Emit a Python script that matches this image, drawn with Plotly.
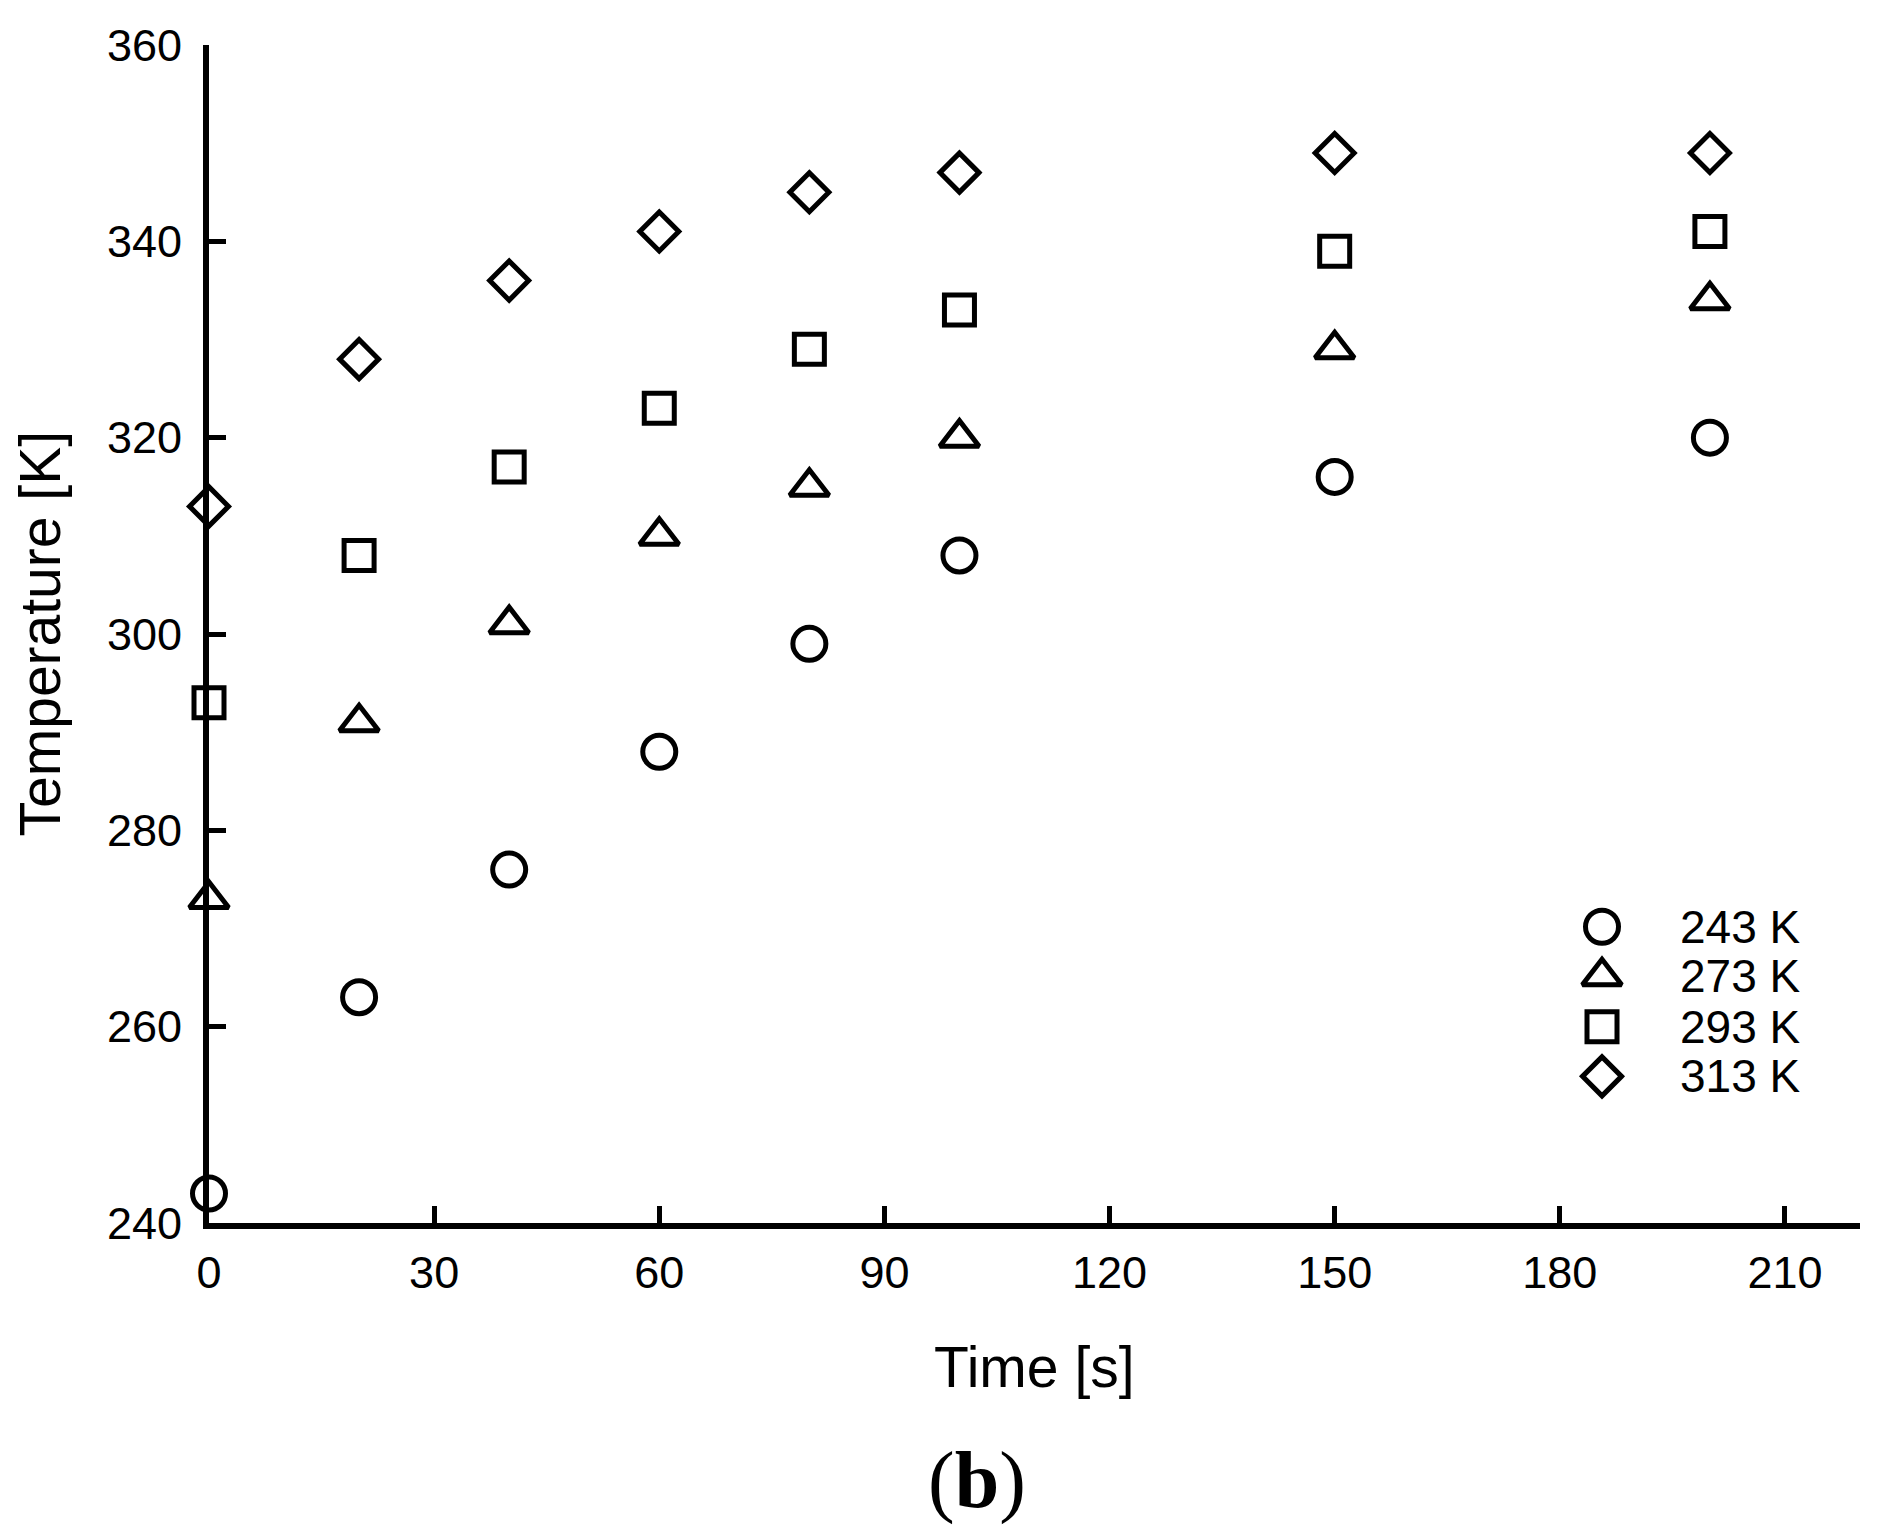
import plotly.graph_objects as go

# ---- data ----
time_s = [0, 20, 40, 60, 80, 100, 150, 200]
t_243 = [243, 263, 276, 288, 299, 308, 316, 320]
t_273 = [273, 291, 301, 310, 315, 320, 329, 334]
t_293 = [293, 308, 317, 323, 329, 333, 339, 341]
t_313 = [313, 328, 336, 341, 345, 347, 349, 349]
series_names = ["243 K", "273 K", "293 K", "313 K"]
x_ticks = [0, 30, 60, 90, 120, 150, 180, 210]
y_ticks = [240, 260, 280, 300, 320, 340, 360]

series = [t_243, t_273, t_293, t_313]
symbols = ["circle-open", "triangle-up-open", "square-open", "diamond-open"]
sizes = [33, 34, 30, 30]

FONT = "Liberation Sans, Arial, sans-serif"
OFF = 8  # default body margin of the html page
W, H = 1890 - OFF, 1539 - OFF
ML, MR, MT, MB = 209 - OFF, 30, 34 - OFF, 316
PW, PH = W - ML - MR, H - MT - MB


def px_to_paper(px, py):
    """page pixel -> paper fraction"""
    return (px - OFF - ML) / PW, (H + OFF - MB - py) / PH


fig = go.Figure()
for ys, sym, sz, nm in zip(series, symbols, sizes, series_names):
    fig.add_trace(go.Scatter(
        x=time_s, y=ys, mode="markers", name=nm, showlegend=False,
        cliponaxis=False,
        marker=dict(symbol=sym, size=sz, color="black", line=dict(width=5, color="black")),
    ))

# custom legend (large markers) on an overlay axis in paper units
leg_y_px = [924, 974, 1025, 1075]
for i, (sym, sz, nm) in enumerate(zip(symbols, sizes, series_names)):
    lx, ly = px_to_paper(1602, leg_y_px[i])
    fig.add_trace(go.Scatter(
        x=[lx], y=[ly], mode="markers", xaxis="x2", yaxis="y2", showlegend=False,
        cliponaxis=False,
        marker=dict(symbol=sym, size=sz, color="black", line=dict(width=5, color="black")),
    ))
    tx, ty = px_to_paper(1678, leg_y_px[i])
    fig.add_annotation(x=tx, y=ty, xref="paper", yref="paper", text=nm, showarrow=False,
                       xanchor="left", yanchor="middle", font=dict(family=FONT, size=46, color="black"))

# axis titles and panel label
xt, yt = px_to_paper(1034, 1368)
fig.add_annotation(x=xt, y=yt, xref="paper", yref="paper", text="Time [s]", showarrow=False,
                   xanchor="center", yanchor="middle", font=dict(family=FONT, size=57, color="black"))
xt, yt = px_to_paper(40, 628)
fig.add_annotation(x=xt, y=yt, xref="paper", yref="paper", text="Temperature [K]", showarrow=False,
                   textangle=-90, xanchor="center", yanchor="middle",
                   font=dict(family=FONT, size=57, color="black"))
xt, yt = px_to_paper(977, 1483)
fig.add_annotation(x=xt, y=yt, xref="paper", yref="paper", text="(<b>b</b>)", showarrow=False,
                   xanchor="center", yanchor="middle",
                   font=dict(family="Liberation Serif, Times New Roman, serif", size=80, color="black"))

axis_common = dict(showgrid=False, zeroline=False, showline=True, linecolor="black", linewidth=6,
                   ticks="inside", ticklen=17, tickwidth=5, tickcolor="black",
                   tickfont=dict(family=FONT, size=45, color="black"))
fig.update_layout(
    width=W, height=H,
    margin=dict(l=ML, r=MR, t=MT, b=MB),
    paper_bgcolor="white", plot_bgcolor="white",
    showlegend=False,
    xaxis=dict(range=[0, 220], tickvals=x_ticks, ticklabelstandoff=5, **axis_common),
    yaxis=dict(range=[240, 360], tickvals=y_ticks, ticklabelstandoff=12, **axis_common),
    xaxis2=dict(domain=[0, 1], anchor="y2", overlaying="x", range=[0, 1], visible=False),
    yaxis2=dict(domain=[0, 1], anchor="x2", overlaying="y", range=[0, 1], visible=False),
)

fig.write_html("out.html")
